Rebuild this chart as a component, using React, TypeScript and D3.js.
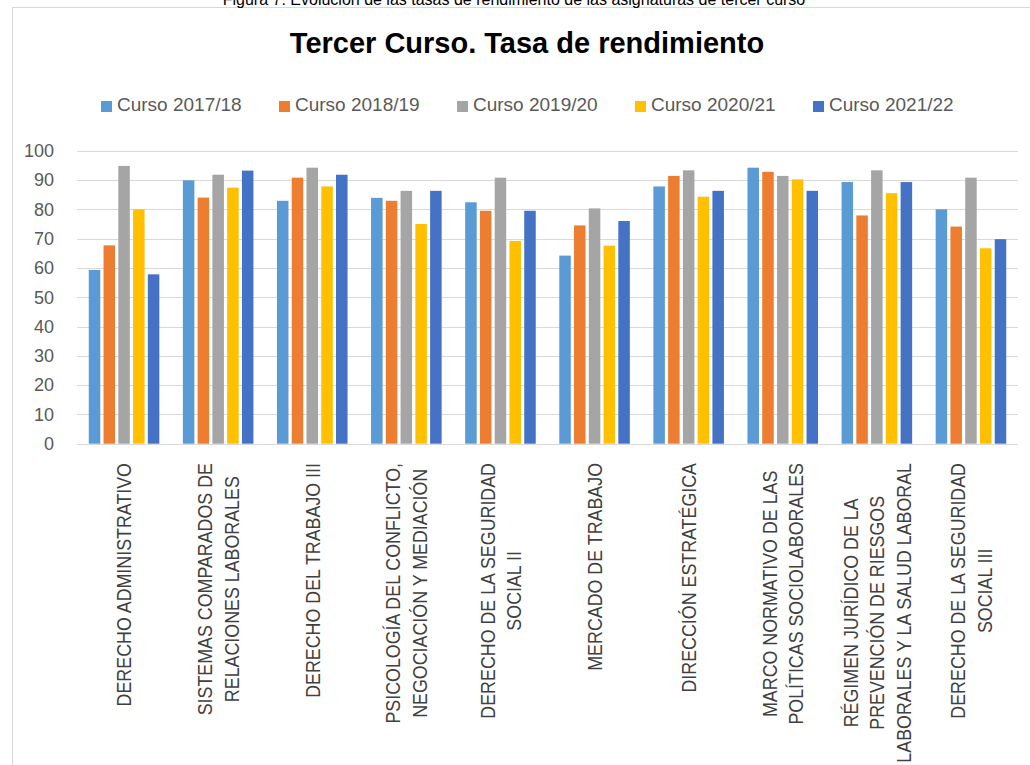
import React, { useEffect, useRef } from "react";
import * as d3 from "d3";

const caption = "Figura 7. Evolución de las tasas de rendimiento de las asignaturas de tercer curso";
const title = "Tercer Curso. Tasa de rendimiento";

const categories = [
  "DERECHO ADMINISTRATIVO",
  "SISTEMAS COMPARADOS DE\nRELACIONES LABORALES",
  "DERECHO DEL TRABAJO III",
  "PSICOLOGÍA DEL CONFLICTO,\nNEGOCIACIÓN Y MEDIACIÓN",
  "DERECHO DE LA SEGURIDAD\nSOCIAL II",
  "MERCADO DE TRABAJO",
  "DIRECCIÓN ESTRATÉGICA",
  "MARCO NORMATIVO DE LAS\nPOLÍTICAS SOCIOLABORALES",
  "RÉGIMEN JURÍDICO DE LA\nPREVENCIÓN DE RIESGOS\nLABORALES Y LA SALUD LABORAL",
  "DERECHO DE LA SEGURIDAD\nSOCIAL III",
];

const seriesNames = ["Curso 2017/18", "Curso 2018/19", "Curso 2019/20", "Curso 2020/21", "Curso 2021/22"];
const seriesColors = ["#5B9BD5", "#ED7D31", "#A5A5A5", "#FFC000", "#4472C4"];

const curso2017 = [59.3, 89.9, 82.9, 83.9, 82.4, 64.2, 87.8, 94.2, 89.3, 80.0];
const curso2018 = [67.7, 84.0, 90.8, 82.9, 79.5, 74.5, 91.4, 92.8, 77.9, 74.1];
const curso2019 = [94.8, 91.8, 94.2, 86.3, 90.8, 80.3, 93.3, 91.4, 93.3, 90.8];
const curso2020 = [80.0, 87.4, 87.8, 75.0, 69.2, 67.6, 84.3, 90.2, 85.5, 66.7];
const curso2021 = [57.8, 93.2, 91.8, 86.3, 79.5, 76.0, 86.3, 86.3, 89.3, 69.8];

const yTicks = [0, 10, 20, 30, 40, 50, 60, 70, 80, 90, 100];

const W = 1030;
const H = 765;

export default function App() {
  const ref = useRef<SVGSVGElement | null>(null);

  useEffect(() => {
    const svg = d3.select(ref.current);
    svg.selectAll("*").remove();
    const values = [curso2017, curso2018, curso2019, curso2020, curso2021];
    const font = "'Liberation Sans', Arial, sans-serif";

    const left = 77, right = 1018, top = 150.7, bottom = 443.7;

    // chart frame
    svg.append("rect")
      .attr("x", 12.5).attr("y", 7.5).attr("width", 1040).attr("height", 800)
      .attr("fill", "#fff").attr("stroke", "#D9D9D9").attr("stroke-width", 1);

    // caption (partly cut at the top, as in the source)
    svg.append("text")
      .attr("x", 514).attr("y", 5)
      .attr("text-anchor", "middle")
      .attr("font-family", font).attr("font-size", 16).attr("fill", "#000")
      .text(caption);

    svg.append("text")
      .attr("x", 527).attr("y", 53)
      .attr("text-anchor", "middle")
      .attr("font-family", font).attr("font-size", 29).attr("font-weight", "bold").attr("fill", "#000")
      .text(title);

    // legend
    const lg = svg.append("g");
    seriesNames.forEach((name, i) => {
      const lx = 101 + i * 178;
      lg.append("rect").attr("x", lx).attr("y", 101).attr("width", 11).attr("height", 11).attr("fill", seriesColors[i]);
      lg.append("text").attr("x", lx + 16).attr("y", 111)
        .attr("font-family", font).attr("font-size", 19).attr("fill", "#595959").text(name);
    });

    const y = d3.scaleLinear().domain([0, 100]).range([bottom, top]);
    const x0 = d3.scaleBand<number>().domain(categories.map((_, i) => i)).range([left, right]).paddingInner(0.25).paddingOuter(0.125);
    const x1 = d3.scaleBand<number>().domain(seriesNames.map((_, i) => i)).range([0, x0.bandwidth()]).paddingInner(0.22);

    // gridlines
    svg.append("g").selectAll("line").data(yTicks).join("line")
      .attr("x1", left).attr("x2", right)
      .attr("y1", (d) => Math.round(y(d)) + 0.5).attr("y2", (d) => Math.round(y(d)) + 0.5)
      .attr("stroke", "#D9D9D9").attr("stroke-width", 1);

    svg.append("g").selectAll("text").data(yTicks).join("text")
      .attr("x", 54).attr("y", (d) => y(d)).attr("dy", "0.35em")
      .attr("text-anchor", "end")
      .attr("font-family", font).attr("font-size", 18).attr("fill", "#595959")
      .text((d) => String(d));

    // bars
    values.forEach((vals, si) => {
      svg.append("g").selectAll("rect").data(vals).join("rect")
        .attr("x", (_, ci) => (x0(ci) as number) + (x1(si) as number))
        .attr("width", x1.bandwidth())
        .attr("y", (d) => y(d))
        .attr("height", (d) => y(0) - y(d))
        .attr("fill", seriesColors[si]);
    });

    // x labels
    const labelTop = 463;
    const squeeze = 0.85;
    const lineGap = 26.5;
    categories.forEach((cat, ci) => {
      const lines = cat.split("\n");
      const cx = (x0(ci) as number) + x0.bandwidth() / 2;
      const g = svg.append("g").attr("transform", `translate(${cx},${labelTop}) rotate(-90) scale(${squeeze},1)`);
      const texts = lines.map((ln, li) =>
        g.append("text")
          .attr("y", (li - (lines.length - 1) / 2) * lineGap)
          .attr("dy", "0.35em")
          .attr("text-anchor", "middle")
          .attr("font-family", font).attr("font-size", 21).attr("fill", "#404040")
          .text(ln)
      );
      let maxLen = 0;
      texts.forEach((t) => {
        const n = t.node() as SVGTextElement;
        maxLen = Math.max(maxLen, n.getComputedTextLength());
      });
      texts.forEach((t) => t.attr("x", -maxLen / 2));
    });
  }, []);

  return (
    <svg
      ref={ref}
      width={W}
      height={H}
      style={{ position: "absolute", left: 0, top: 0, display: "block", background: "#fff" }}
    />
  );
}
